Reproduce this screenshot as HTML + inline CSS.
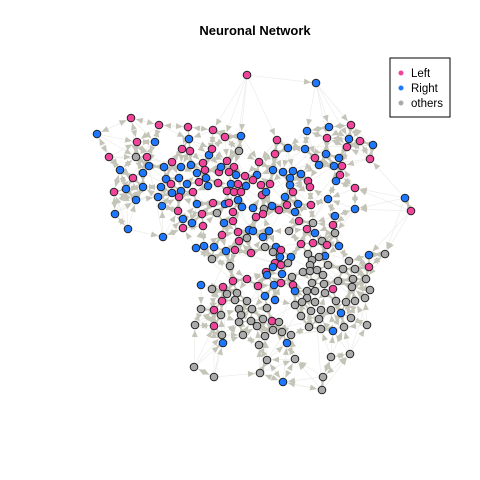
<!DOCTYPE html>
<html><head><meta charset="utf-8"><style>
body{margin:0;background:#fff}
svg{display:block;font-family:"Liberation Sans",sans-serif}
</style></head><body>
<svg id="chart" width="480" height="480" viewBox="0 0 480 480">
<rect width="480" height="480" fill="#fff"/>
<text x="255" y="35" text-anchor="middle" font-size="13" font-weight="bold">Neuronal Network</text>
<g id="edges"></g>
<g id="arrows"></g>
<g id="nodes"></g>
<g>
<rect x="390" y="58" width="60" height="59" fill="#fff" stroke="#000" stroke-width="1"/>
<circle cx="401" cy="73" r="2.5" fill="#f0449a"/>
<text x="411" y="77" font-size="11.5">Left</text>
<circle cx="401" cy="88" r="2.5" fill="#1e78ff"/>
<text x="411" y="92" font-size="11.5">Right</text>
<circle cx="401" cy="103" r="2.5" fill="#aaaaaa"/>
<text x="411" y="107" font-size="11.5">others</text>
</g>
</svg>
<script>
const groupNames=["Left","Right","others"];
const groupColors=["#f0449a","#1e78ff","#aaaaaa"];
// node layout: [x, y, groupIndex] (0=Left,1=Right,2=others)
const nodes=[
[247,75,0],[316,83,1],
[131,118,0],[159,125,0],[188,127,0],[213,130,0],[225,137,0],[241,136,1],[97,134,1],[137,142,0],[155,142,1],[189,139,1],
[109,157,0],[136,157,2],[147,157,0],[182,149,0],[190,151,0],[209,155,1],[212,149,0],[239,151,2],[120,170,1],[149,166,1],
[172,162,0],[164,167,1],[181,167,1],[191,165,1],[203,163,0],[205,170,0],[227,161,0],[219,172,0],[221,167,1],[234,167,0],
[229,172,0],[236,175,1],[245,176,0],[143,173,1],[133,178,0],[126,189,1],[114,192,0],[143,187,1],[166,179,1],[171,184,0],
[179,178,1],[161,187,1],[187,184,1],[197,173,1],[199,182,0],[206,178,1],[208,186,1],[218,183,0],[231,184,1],[238,184,0],
[246,186,1],[172,193,1],[181,191,1],[193,192,0],[179,197,0],[227,191,0],[234,192,0],[241,192,0],[136,200,1],[158,197,1],
[162,206,1],[197,204,1],[213,203,0],[225,204,1],[229,203,0],[238,200,1],[242,207,1],[115,214,1],[178,211,0],[217,213,2],
[202,214,0],[233,212,0],[183,219,1],[192,223,1],[203,226,0],[183,228,0],[224,223,1],[233,221,0],[128,229,1],[249,230,1],
[222,235,0],[238,232,0],[163,237,1],[247,238,2],[239,241,0],[196,248,1],[204,246,1],[214,247,1],[226,251,1],[235,250,0],[212,259,2],
[351,125,0],[329,127,1],[307,131,1],[327,138,0],[349,139,1],[360,141,0],[373,145,1],[277,140,0],[288,148,1],[305,149,1],
[347,147,0],[275,154,0],[315,158,0],[326,154,1],[339,158,1],[370,159,0],[259,162,0],[319,165,1],[334,166,1],[342,166,0],
[257,175,1],[273,170,1],[283,172,1],[293,171,1],[301,174,1],[340,175,0],[253,180,0],[290,178,1],[308,181,0],[310,187,0],
[336,181,1],[261,185,0],[270,184,0],[290,185,1],[262,195,0],[266,192,1],[293,192,0],[355,188,0],[285,197,1],[328,199,1],
[405,198,1],[411,211,0],[253,208,1],[272,206,1],[264,209,2],[279,210,0],[287,205,0],[298,204,1],[311,205,0],[355,209,1],
[256,217,0],[263,214,0],[295,212,1],[335,216,1],[299,221,0],[313,223,2],[333,225,0],[269,231,1],[289,231,2],[307,229,0],
[315,233,1],[335,233,2],[263,237,1],[253,231,1],[265,247,2],[301,244,0],[313,243,0],[322,241,2],[327,245,0],[339,246,1],
[276,247,1],[281,250,0],[273,252,2],[280,257,1],[291,257,1],[325,256,1],[308,254,2],[319,257,2],[369,255,1],[385,254,2],
[269,231,1],[251,253,0],[230,266,2],[275,263,0],[281,265,0],[273,267,1],[266,272,0],[267,275,1],[282,274,1],[288,263,2],
[312,260,2],[310,265,2],[328,265,2],[349,261,2],[369,267,0],[292,277,2],[303,272,2],[310,271,2],[317,270,2],[323,275,2],
[343,269,2],[355,269,2],[353,279,2],[366,279,2],[201,285,1],[212,289,2],[223,287,0],[233,281,0],[247,279,0],[258,286,0],
[274,285,1],[281,283,0],[293,285,0],[295,291,1],[312,283,2],[324,284,2],[338,281,2],[352,287,2],[333,289,0],[370,290,2],
[307,291,2],[315,291,2],[325,293,2],[227,294,2],[237,293,2],[235,300,2],[247,301,2],[265,296,1],[275,300,1],[307,298,2],
[302,302,2],[295,305,2],[315,302,2],[336,301,2],[346,302,2],[355,301,2],[365,298,2],[222,301,0],[201,309,2],[214,310,0],
[221,315,2],[239,309,2],[252,309,2],[267,308,2],[241,315,2],[311,311,2],[321,310,2],[331,310,2],[341,313,1],[301,316,2],
[319,319,2],[351,318,2],[195,325,2],[214,326,0],[239,322,2],[251,321,2],[257,326,2],[263,319,2],[272,321,0],[279,322,2],
[273,330,2],[282,332,2],[291,335,2],[265,336,2],[309,327,2],[321,329,2],[333,331,1],[344,327,2],[367,325,2],[222,335,2],
[243,335,2],[223,343,1],[287,343,1],[259,345,2],[267,360,2],[295,359,2],[331,357,2],[350,354,2],[194,367,2],[214,377,2],
[260,373,2],[283,382,1],[323,377,2],[322,390,2]
];
const NS="http://www.w3.org/2000/svg";
const eg=document.getElementById('edges'),ag=document.getElementById('arrows'),ng=document.getElementById('nodes');
const edges=[];
nodes.forEach((a,i)=>{
  const d=nodes.map((b,j)=>[Math.hypot(a[0]-b[0],a[1]-b[1]),j]).filter(p=>p[1]!==i&&p[0]>2).sort((p,q)=>p[0]-q[0]);
  for(let k=0;k<5&&k<d.length;k++)edges.push([i,d[k][1],1]);
  if(i%3===0){const far=d[Math.min(d.length-1,(i*7)%40+15)];edges.push([far[1],i,0]);}
});
edges.forEach(([s,t,arr])=>{
  const a=nodes[s],b=nodes[t];
  const l=document.createElementNS(NS,'line');
  l.setAttribute('x1',a[0]);l.setAttribute('y1',a[1]);l.setAttribute('x2',b[0]);l.setAttribute('y2',b[1]);
  l.setAttribute('stroke','#ececea');l.setAttribute('stroke-width','0.7');
  
  
  eg.appendChild(l);
  const dx=b[0]-a[0],dy=b[1]-a[1],L=Math.hypot(dx,dy);if(L<12||!arr)return;
  const ux=dx/L,uy=dy/L,tx=b[0]-ux*5,ty=b[1]-uy*5,bx=tx-ux*7,by=ty-uy*7;
  const p=document.createElementNS(NS,'polygon');
  p.setAttribute('points',`${tx},${ty} ${bx-uy*3},${by+ux*3} ${bx+uy*3},${by-ux*3}`);
  p.setAttribute('fill','#c4c4b8');
  
  
  ag.appendChild(p);
});
nodes.forEach(n=>{
  const c=document.createElementNS(NS,'circle');
  c.setAttribute('cx',n[0]);c.setAttribute('cy',n[1]);c.setAttribute('r','3.8');
  c.setAttribute('fill',groupColors[n[2]]);c.setAttribute('stroke','#222');c.setAttribute('stroke-width','1');
  
  
  ng.appendChild(c);
});
</script>
</body></html>
